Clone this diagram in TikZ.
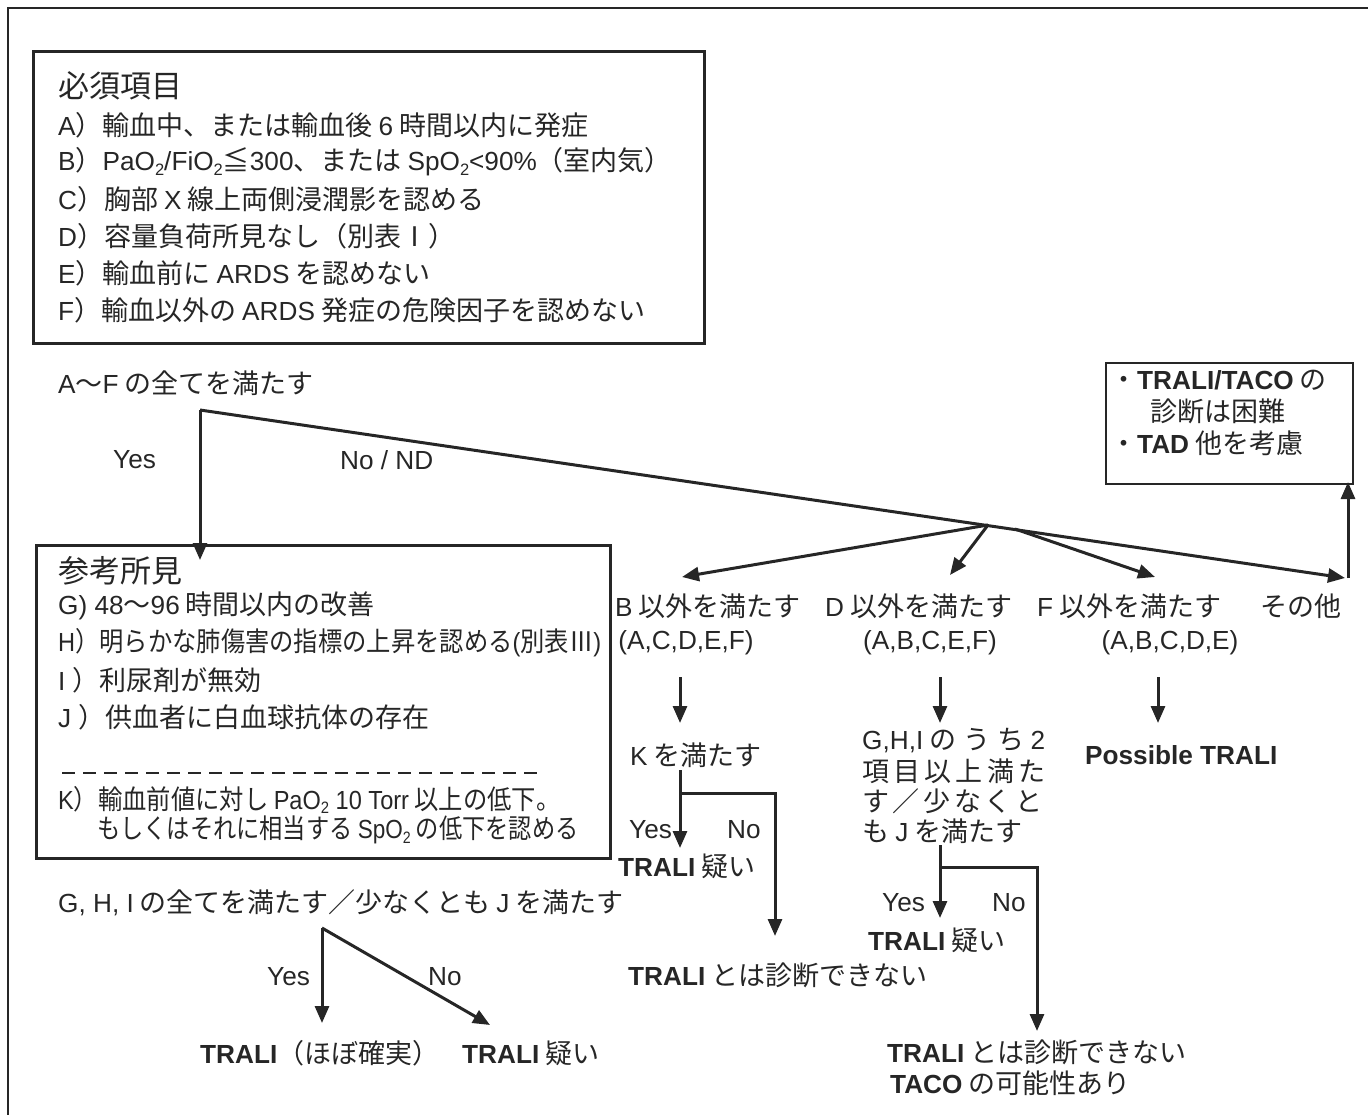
\documentclass[tikz,border=0pt]{standalone}
\usepackage{graphicx}
\usepackage{fontspec}
\setmainfont{Noto Sans CJK JP}
\newfontfamily\lat[Scale=0.97]{Liberation Sans}
\usetikzlibrary{arrows.meta}
\definecolor{ink}{gray}{0.15}
\newcommand\E[1]{{\lat #1}}
\newcommand\EB[1]{{\lat\bfseries #1}}
\newcommand\sub[1]{\raisebox{-0.35ex}{\fontsize{17}{17}\selectfont\lat #1}}
\tikzset{
  t/.style={inner sep=0pt, anchor=west, text=ink, font=\fontsize{27}{34}\selectfont},
  ttl/.style={t, font=\fontsize{31}{36}\selectfont},
  tc/.style={t, anchor=center},
  frame/.style={draw=ink, line width=3pt, inner sep=0pt, anchor=north west},
  thinframe/.style={frame, line width=2pt},
  arr/.style={draw=ink, line width=3pt, -{Triangle[length=17pt,width=14pt]}},
}
\begin{document}
\begin{tikzpicture}[x=1pt,y=-1pt]
\useasboundingbox (0,0) rectangle (1368,1115);
% outer frame
\draw[ink, line width=2pt] (8,1115) -- (8,8) -- (1368,8);

% box 1
\node[frame, minimum width=671pt, minimum height=292pt] (must) at (32,50) {};
\node[ttl] (mustT) at (58,86) {必須項目};
\node[t] (lA) at (58,125) {\E{A}）輸血中、または輸血後 \E{6} 時間以内に発症};
\node[t] (lB) at (58,162) {\E{B}）\E{PaO\sub{2}/FiO\sub{2}}≦\E{300}、または \E{SpO\sub{2}<90\%}（室内気）};
\node[t] (lC) at (58,199) {\E{C}）胸部 \E{X} 線上両側浸潤影を認める};
\node[t] (lD) at (58,236) {\E{D}）容量負荷所見なし（別表Ⅰ）};
\node[t] (lE) at (58,273) {\E{E}）輸血前に \E{ARDS} を認めない};
\node[t] (lF) at (58,310) {\E{F}）輸血以外の \E{ARDS} 発症の危険因子を認めない};

\node[t] (cond1) at (58,383) {\E{A}～\E{F} の全てを満たす};
\coordinate (f1) at (200,410);
\node[t] (yes1) at (113,460) {\E{Yes}};
\node[t] (no1) at (340,460) {\E{No / ND}};

% box 2
\node[frame, minimum width=574pt, minimum height=313pt] (ref) at (35,544) {};
\node[ttl] (refT) at (58,571) {参考所見};
\node[t] (lG) at (58,606) {\E{G) 48}～\E{96} 時間以内の改善};
\node[t] (lH) at (58,643) {\scalebox{0.9}[1]{\E{H}）明らかな肺傷害の指標の上昇を認める\E{(}別表Ⅲ\E{)}}};
\node[t] (lI) at (58,680) {\E{I }）利尿剤が無効};
\node[t] (lJ) at (58,717) {\E{J }）供血者に白血球抗体の存在};
\coordinate (dashL) at (62,773);
\coordinate (dashR) at (537,773);
\draw[ink, line width=2pt, dash pattern=on 13pt off 8pt] (dashL) -- (dashR);
\node[t] (lK) at (58,800) {\scalebox{0.9}[1]{\E{K}）輸血前値に対し \E{PaO\sub{2} 10 Torr} 以上の低下。}};
\node[t] (lK2) at (97,830) {\scalebox{0.86}[1]{もしくはそれに相当する \E{SpO\sub{2}} の低下を認める}};

\draw[arr] (f1) -- ([yshift=-16pt]ref.north -| f1);

% box 3
\node[thinframe, minimum width=247pt, minimum height=121pt] (hard) at (1105,362) {};
\node[t] (h1) at (1110,380) {・\EB{TRALI/TACO} の};
\node[t] (h2) at (1150,411) {診断は困難};
\node[t] (h3) at (1110,443) {・\EB{TAD} 他を考慮};

% columns
\node[t] (cB) at (615,606) {\E{B} 以外を満たす};
\node[t] (cD) at (825,606) {\E{D} 以外を満たす};
\node[t] (cF) at (1037,606) {\E{F} 以外を満たす};
\node[t] (cO) at (1260,606) {その他};
\node[tc] (sB) at (686,643) {\E{(A,C,D,E,F)}};
\node[tc] (sD) at (930,643) {\E{(A,B,C,E,F)}};
\node[tc] (sF) at (1170,643) {\E{(A,B,C,D,E)}};

% main no/nd line and branches
\coordinate (corner) at (1345,578);
\coordinate (jn) at (988,525);
\coordinate (jf) at (1015,529);
\draw[arr] (f1) -- (corner);
\draw[arr] ([xshift=3pt]corner) -- ([yshift=3pt]hard.south -| 1348,0);
\draw[arr] (jn) -- (682,577);
\draw[arr] (jn) -- (950,575);
\draw[arr] (jf) -- (1155,577);

% B column
\node[t] (kc) at (630,755) {\E{K} を満たす};
\draw[arr] (680,677) -- (680,723);
\draw[arr] (680,770) -- (680,848);
\draw[arr] (680,793) -- (775,793) -- (775,936);
\node[t] (yes2) at (629,830) {\E{Yes}};
\node[t] (no2) at (727,830) {\E{No}};
\node[t] (tr2) at (618,866) {\EB{TRALI} 疑い};
\node[t] (nd2) at (628,975) {\EB{TRALI} とは診断できない};

% D column
\draw[arr] (940,677) -- (940,723);
\node[t] (g1) at (862,741) {\makebox[183pt][s]{\E{G,H,I}\hfil の\hfil う\hfil ち\hfil \E{2}}};
\node[t] (g2) at (862,771) {\makebox[183pt][s]{項\hfil 目\hfil 以\hfil 上\hfil 満\hfil た}};
\node[t] (g3) at (862,801) {\makebox[180pt][s]{す\hfil ／\hfil 少\hfil な\hfil く\hfil と}};
\node[t] (g4) at (862,831) {も \E{J} を満たす};
\draw[arr] (940,845) -- (940,918);
\draw[arr] (940,867) -- (1037,867) -- (1037,1031);
\node[t] (yes3) at (882,903) {\E{Yes}};
\node[t] (no3) at (992,903) {\E{No}};
\node[t] (tr3) at (868,940) {\EB{TRALI} 疑い};
\node[t] (nd3) at (887,1052) {\EB{TRALI} とは診断できない};
\node[t] (taco) at (890,1083) {\EB{TACO} の可能性あり};

% F column
\draw[arr] (1158,677) -- (1158,723);
\node[t] (poss) at (1085,755) {\EB{Possible TRALI}};

% bottom left
\node[t] (cond2) at (58,903) {\E{G, H, I} の全てを満たす／少なくとも \E{J} を満たす};
\coordinate (f2) at (322,928);
\draw[arr] (f2) -- (322,1023);
\draw[arr] (f2) -- (490,1025);
\node[t] (yes4) at (267,977) {\E{Yes}};
\node[t] (no4) at (428,977) {\E{No}};
\node[t] (tr4a) at (200,1053) {\EB{TRALI}（ほぼ確実）};
\node[t] (tr4b) at (462,1053) {\EB{TRALI} 疑い};
\end{tikzpicture}
\end{document}
